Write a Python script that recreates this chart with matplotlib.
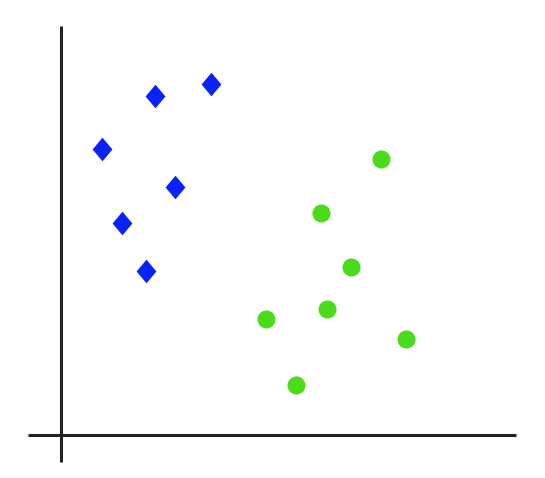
import numpy as np
import matplotlib.pyplot as plt

# Two clusters (origin at the axis crossing)
blue_x = [94, 150, 41, 114, 61, 85]
blue_y = [339, 351, 286, 248, 212, 164]
green_x = [320, 260, 290, 205, 266, 345, 235]
green_y = [276, 222, 168, 116, 126, 96, 50]

fig = plt.figure(figsize=(5.45, 4.78), dpi=100)
ax = fig.add_axes([0, 0, 1, 1])
ax.set_xlim(-61, 484)
ax.set_ylim(-43, 435)

# axis lines crossing at the origin
ax.plot([-33, 455], [0, 0], color='#222222', linewidth=2.2, solid_capstyle='butt')
ax.plot([0, 0], [-27, 409], color='#222222', linewidth=2.2, solid_capstyle='butt')

diamond = [(-0.42, 0), (0, 0.5), (0.42, 0), (0, -0.5), (-0.42, 0)]
ax.plot(blue_x, blue_y, linestyle='none', marker=diamond, markersize=17,
        color='#0a22f5', markeredgewidth=0)
ax.plot(green_x, green_y, linestyle='none', marker='o', markersize=13,
        color='#4cdb1c', markeredgewidth=0)

ax.axis('off')
plt.savefig('out.png', dpi=100)
